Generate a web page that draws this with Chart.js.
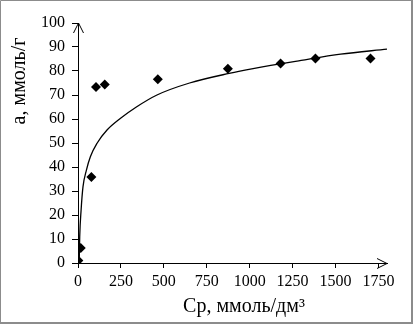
<!DOCTYPE html>
<html><head><meta charset="utf-8">
<script src="https://cdn.jsdelivr.net/npm/chart.js@4"></script>
<style>html,body{margin:0;padding:0;background:#fff;}#wrap{width:414px;height:325px;position:relative;}canvas{display:block;}</style>
</head><body><div id="wrap"><canvas id="c" width="414" height="325"></canvas></div>
<script>
// Experimental points
const pointsC = [2, 16, 78, 105, 156, 465, 873, 1180, 1383, 1704];
const pointsA = [1, 6.3, 35.8, 73.3, 74.4, 76.6, 80.9, 83.1, 85.2, 85.2];
// Fitted curve
const curveC = [7, 10, 18, 29, 49, 72, 111, 169, 248, 340, 460, 650, 880, 1020, 1300, 1530, 1800];
const curveA = [0, 11, 22, 31.7, 38.7, 44.3, 49.9, 55.4, 60.3, 65, 70, 75, 79, 81, 84.4, 87, 89.1];
// Ticks
const xTicks = [0, 250, 500, 750, 1000, 1250, 1500, 1750];
const yTicks = [0, 10, 20, 30, 40, 50, 60, 70, 80, 90, 100];
const xTitle = 'Ср, ммоль/дм³';
const yTitle = 'а, ммоль/г';

const FONT = 'Liberation Serif, Times New Roman, serif';

const decor = {
  id: 'decor',
  afterDraw(chart) {
    const ctx = chart.ctx;
    const {left, top, right, bottom} = chart.chartArea;
    ctx.save();
    ctx.strokeStyle = '#000';
    ctx.lineWidth = 1;
    // y arrow
    ctx.beginPath();
    ctx.moveTo(left - 4.5, top + 10);
    ctx.lineTo(left + 0.5, top);
    ctx.lineTo(left + 5.5, top + 10);
    ctx.stroke();
    // x arrow
    ctx.beginPath();
    ctx.moveTo(right - 10, bottom - 4.5);
    ctx.lineTo(right, bottom + 0.5);
    ctx.lineTo(right - 10, bottom + 5.5);
    ctx.stroke();
    // titles
    ctx.fillStyle = '#000';
    ctx.font = '20px ' + FONT;
    ctx.textAlign = 'center';
    ctx.textBaseline = 'alphabetic';
    ctx.fillText(xTitle, 244, 311.5);
    ctx.save();
    ctx.translate(25, 81);
    ctx.rotate(-Math.PI / 2);
    ctx.font = '20px ' + FONT;
    ctx.fillText(yTitle, 0, 0);
    ctx.restore();
    // frame
    ctx.strokeStyle = '#8c8c8c';
    ctx.beginPath();
    ctx.moveTo(0.5, 324); ctx.lineTo(0.5, 0.5); ctx.lineTo(413, 0.5);
    ctx.stroke();
    ctx.lineWidth = 2;
    ctx.beginPath();
    ctx.moveTo(412, 0); ctx.lineTo(412, 323); ctx.lineTo(0, 323);
    ctx.stroke();
    ctx.restore();
  }
};

const tickFmt = v => String(v);

new Chart(document.getElementById('c'), {
  type: 'scatter',
  data: {
    datasets: [
      {
        label: 'points',
        data: pointsC.map((c, i) => ({x: c, y: pointsA[i]})),
        pointStyle: 'rectRot',
        pointRadius: 5,
        backgroundColor: '#000',
        borderColor: '#000',
        borderWidth: 0,
        showLine: false,
        order: 0
      },
      {
        label: 'curve',
        data: curveC.map((c, i) => ({x: c, y: curveA[i]})),
        showLine: true,
        pointRadius: 0,
        borderColor: '#000',
        borderWidth: 1.3,
        cubicInterpolationMode: 'monotone',
        fill: false,
        order: 1
      }
    ]
  },
  options: {
    responsive: false,
    animation: false,
    devicePixelRatio: 1,
    layout: {padding: {top: 23, right: 27, left: 0, bottom: 0}},
    plugins: {legend: {display: false}, tooltip: {enabled: false}},
    scales: {
      x: {
        type: 'linear', min: 0, max: 1800,
        afterBuildTicks: s => { s.ticks = xTicks.map(v => ({value: v})); },
        afterFit: s => { s.height = 62; },
        grid: {display: true, drawOnChartArea: false, drawTicks: true, tickLength: 5, color: '#000', lineWidth: 1},
        border: {display: true, color: '#000', width: 1},
        ticks: {font: {family: FONT, size: 16}, color: '#000', padding: 4, maxRotation: 0, autoSkip: false, callback: tickFmt}
      },
      y: {
        type: 'linear', min: 0, max: 100,
        afterBuildTicks: s => { s.ticks = yTicks.map(v => ({value: v})); },
        afterFit: s => { s.width = 78; },
        grid: {display: true, drawOnChartArea: false, drawTicks: true, tickLength: 6, color: '#000', lineWidth: 1},
        border: {display: true, color: '#000', width: 1},
        ticks: {font: {family: FONT, size: 16}, color: '#000', padding: 7, autoSkip: false, callback: tickFmt}
      }
    }
  },
  plugins: [decor]
});
</script>
</body></html>
